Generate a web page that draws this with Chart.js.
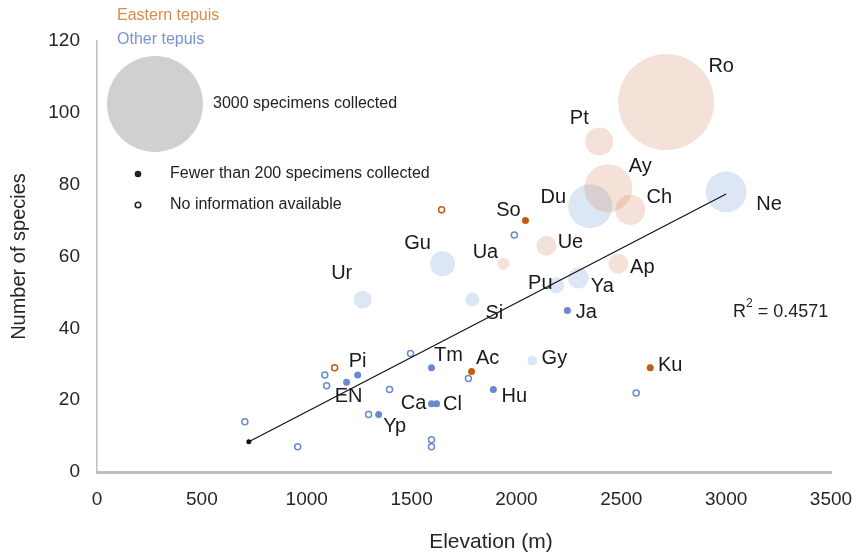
<!DOCTYPE html>
<html>
<head>
<meta charset="utf-8">
<script src="https://cdn.jsdelivr.net/npm/chart.js@4/dist/chart.umd.min.js"></script>
<style>
  body { margin: 0; background: #fff; }
  #wrap { width: 857px; height: 554px; position: relative; }
</style>
</head>
<body>
<div id="wrap"><canvas id="myChart"></canvas></div>
<script>
// tepui data: elevation (m), number of species, specimens collected (null = no info), region (E = eastern)
var names     = ["Ro","Pt","Ay","Du","Ch","Ne","Ue","Ua","Ap","Ya","Pu","Gu","Ur","Si","Gy",
                 "So","Ja","Ku","Tm","Ac","Hu","Pi","EN","Ca","Cl","Yp",
                 "","","","","","","","","","","","","",""];
var elevation = [2714,2395,2438,2352,2543,3000,2143,1938,2486,2295,2190,1648,1267,1790,2076,
                 2043,2243,2638,1595,1786,1890,1243,1190,1595,1619,1343,
                 1643,1133,1990,1495,1086,1095,1395,1771,1295,1595,1595,957,705,2571];
var species   = [103,92,79,74,73,78,63,58,58,54,52,58,48,48,31,
                 70,45,29,29,28,23,27,25,19,19,16,
                 73,29,66,33,27,24,23,26,16,9,7,7,14,22];
var specimens = [3000,875,1500,1375,940,1280,625,375,625,655,500,780,560,440,310,
                 150,150,150,120,150,120,190,120,190,190,120,
                 null,null,null,null,null,null,null,null,null,null,null,null,null,null];
var region    = ["E","E","E","O","E","O","E","E","E","O","O","O","O","O","O",
                 "E","O","E","O","E","O","O","O","O","O","O",
                 "E","E","O","O","O","O","O","O","O","O","O","O","O","O"];

var trendX = [724, 3000];
var trendY = [8.4, 77.4];
var rSquared = "0.4571";

var xTicks = [0,500,1000,1500,2000,2500,3000,3500];
var yTicks = [0,20,40,60,80,100,120];

// label placement around each mark (px)
var labelOffset = {
  Ro:[55,-36], Pt:[-20,-23], Ay:[32,-22], Du:[-37,-9], Ch:[29,-12], Ne:[43,13],
  Ue:[24,-3], Ua:[-18,-11], Ap:[24,4], Ya:[24,8], Pu:[-16,-2], Gu:[-25,-20],
  Ur:[-21,-26], Si:[22,14], Gy:[22,-2], So:[-17,-10], Ja:[19,2], Ku:[20,-2],
  Tm:[17,-12], Ac:[16,-13], Hu:[21,7], Pi:[0,-14], EN:[2,14], Ca:[-18,0],
  Cl:[16,1], Yp:[16,12]
};

var ORANGE_DOT = "#C55A11", BLUE_DOT = "#6A8AD0";
var ORANGE_BUB = "rgba(200,110,60,0.2)", BLUE_BUB = "rgba(68,114,196,0.18)";

function groupData(reg, kind) {
  var pts = [], labs = [];
  for (var i = 0; i < names.length; i++) {
    if (region[i] !== reg) continue;
    var n = specimens[i];
    var k = n === null ? "hollow" : (n < 200 ? "dot" : "bubble");
    if (k !== kind) continue;
    var r = n === null ? 3 : Math.max(3.5, 48 * n / 3000);
    pts.push({x: elevation[i], y: species[i], r: r});
    labs.push(names[i]);
  }
  return {pts: pts, labs: labs};
}

function ds(reg, kind) {
  var g = groupData(reg, kind);
  var dot = reg === "E" ? ORANGE_DOT : BLUE_DOT;
  var d = {label: reg + kind, data: g.pts, names: g.labs, clip: false};
  if (kind === "bubble") { d.backgroundColor = reg === "E" ? ORANGE_BUB : BLUE_BUB; d.borderWidth = 0; }
  else if (kind === "dot") { d.backgroundColor = dot; d.borderWidth = 0; }
  else { d.backgroundColor = "#fff"; d.borderColor = dot; d.borderWidth = 1.5; }
  return d;
}

var trendData = trendX.map(function(x, i){ return {x: x, y: trendY[i]}; });

var labelPlugin = {
  id: "labels",
  afterDatasetsDraw: function(chart) {
    var ctx = chart.ctx;
    ctx.save();
    ctx.font = "20px 'Liberation Sans', Arial, sans-serif";
    ctx.fillStyle = "#1a1a1a";
    ctx.textAlign = "center";
    ctx.textBaseline = "middle";
    chart.data.datasets.forEach(function(d, di) {
      if (!d.names) return;
      var meta = chart.getDatasetMeta(di);
      meta.data.forEach(function(el, i) {
        var nm = d.names[i];
        if (!nm || !labelOffset[nm]) return;
        ctx.fillText(nm, el.x + labelOffset[nm][0], el.y + labelOffset[nm][1]);
      });
    });

    // x axis title (sits right of centre in the original)
    ctx.font = "21px 'Liberation Sans', Arial, sans-serif";
    ctx.fillStyle = "#262626";
    ctx.fillText("Elevation (m)", 491, 542);

    // legend block
    ctx.textAlign = "left";
    ctx.font = "16px 'Liberation Sans', Arial, sans-serif";
    ctx.fillStyle = "#D98C4A";
    ctx.fillText("Eastern tepuis", 117, 16);
    ctx.fillStyle = "#7A90D6";
    ctx.fillText("Other tepuis", 117, 40);
    ctx.fillStyle = "#D0D0D0";
    ctx.beginPath(); ctx.arc(155, 104, 48, 0, Math.PI * 2); ctx.fill();
    ctx.fillStyle = "#222";
    ctx.fillText("3000 specimens collected", 213, 104);
    ctx.beginPath(); ctx.arc(138, 174, 3.3, 0, Math.PI * 2); ctx.fill();
    ctx.fillText("Fewer than 200 specimens collected", 170, 174);
    ctx.strokeStyle = "#222"; ctx.lineWidth = 1.5;
    ctx.beginPath(); ctx.arc(138, 205, 2.8, 0, Math.PI * 2); ctx.stroke();
    ctx.fillText("No information available", 170, 205);

    // R squared
    ctx.font = "18px 'Liberation Sans', Arial, sans-serif";
    ctx.fillText("R", 733, 312);
    var w = ctx.measureText("R").width;
    ctx.font = "12px 'Liberation Sans', Arial, sans-serif";
    ctx.fillText("2", 733 + w, 304);
    var w2 = ctx.measureText("2").width;
    ctx.font = "18px 'Liberation Sans', Arial, sans-serif";
    ctx.fillText(" = " + rSquared, 733 + w + w2, 312);
    ctx.restore();
  }
};

Chart.defaults.font.family = "'Liberation Sans', Arial, sans-serif";

var myChart = new Chart("myChart", {
  type: "bubble",
  data: {
    datasets: [
      {type: "line", label: "trend", data: trendData, borderColor: "#111", borderWidth: 1.2,
       pointRadius: [2.5, 0], pointBackgroundColor: "#111", pointBorderWidth: 0, fill: false, clip: false},
      ds("E", "dot"), ds("O", "dot"), ds("E", "hollow"), ds("O", "hollow"),
      ds("E", "bubble"), ds("O", "bubble")
    ]
  },
  options: {
    responsive: true,
    maintainAspectRatio: false,
    animation: false,
    events: [],
    layout: {autoPadding: false, padding: {top: 41, right: 26, left: 0, bottom: 0}},
    plugins: {legend: {display: false}, tooltip: {enabled: false}},
    scales: {
      x: {
        type: "linear", min: 0, max: 3500,
        afterBuildTicks: function(s){ s.ticks = xTicks.map(function(v){ return {value: v}; }); },
        afterFit: function(s){ s.height = 82; s.paddingLeft = 0; s.paddingRight = 0; },
        grid: {display: false, drawTicks: false},
        border: {color: "#BFBFBF", width: 3},
        ticks: {color: "#262626", font: {size: 19}, padding: 16, maxRotation: 0,
                callback: function(v){ return String(v); }},
        title: {display: false}
      },
      y: {
        type: "linear", min: 0, max: 120,
        afterBuildTicks: function(s){ s.ticks = yTicks.map(function(v){ return {value: v}; }); },
        afterFit: function(s){ s.width = 97; s.paddingTop = 0; s.paddingBottom = 0; },
        grid: {display: false, drawTicks: false},
        border: {color: "#BFBFBF", width: 1.5},
        ticks: {color: "#262626", font: {size: 19}, padding: 17,
                callback: function(v){ return String(v); }},
        title: {display: true, text: "Number of species", color: "#262626", font: {size: 20}, padding: {top: 7, bottom: 0}}
      }
    }
  },
  plugins: [labelPlugin]
});
</script>
</body>
</html>
